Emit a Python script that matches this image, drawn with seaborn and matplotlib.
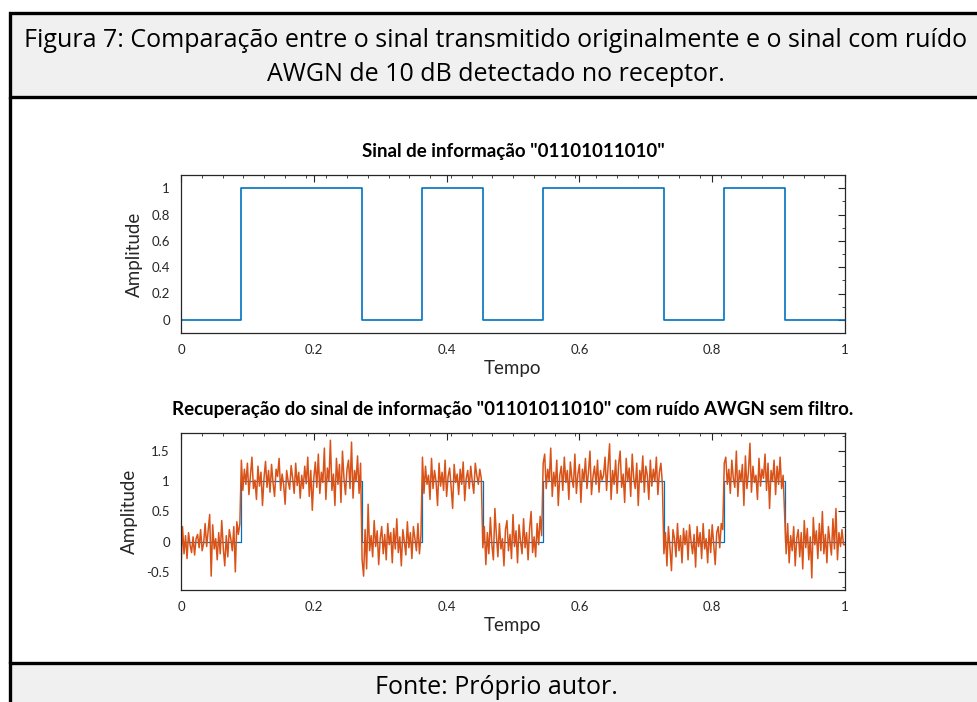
import numpy as np
import pandas as pd
import matplotlib
matplotlib.use("Agg")
import matplotlib.pyplot as plt
import seaborn as sns
from matplotlib.patches import Rectangle
from matplotlib.ticker import MultipleLocator

# ---------------- data ----------------
bits = [0, 1, 1, 0, 1, 0, 1, 1, 0, 1, 0]
bit_string = "01101011010"

# received (noisy) signal, in hundredths, one block per bit
rx_blocks = [
    [-45, 25, -20, 10, -28, 15, -5, -18, 8, -22, 5, 12, -10, 20, -15, -3, 30, -8, 18, 45,
     -57, 28, -12, 5, -30, 15, -20, 35, -10, -40, 10, -25, 20, 5, -15, 25, -50, 33, 12, 30],
    [135, 85, 120, 95, 130, 78, 110, 140, 88, 102, 70, 125, 92, 115, 60, 105, 133, 90, 118, 82,
     128, 97, 75, 120, 108, 138, 85, 112, 95, 62, 118, 100, 87, 126, 105, 80, 130, 93, 115, 72],
    [110, 88, 125, 96, 140, 75, 118, 52, 105, 132, 90, 145, 80, 115, 98, 155, 70, 122, 100, 168,
     85, 112, 60, 138, 95, 128, 65, 150, 105, 78, 120, 135, 88, 165, 72, 118, 100, 142, 80, 130],
    [-30, -57, 20, -45, 62, -15, 10, -25, 35, -8, 18, -38, 5, 25, -20, 12, -30, 30, -5, 15,
     -35, 22, -12, 38, -18, 8, -40, 20, 0, -22, 33, -10, 15, -28, 25, 5, -15, 30, -20, 10],
    [140, 80, 125, 95, 110, 70, 138, 88, 118, 100, 60, 130, 92, 115, 85, 135, 75, 108, 122, 90,
     55, 128, 98, 112, 78, 120, 95, 132, 68, 105, 118, 88, 125, 100, 80, 130, 110, 95, 120, 105],
    [-10, 25, -38, 15, -20, 40, -5, -30, 55, 10, -25, 30, -12, 5, -40, 20, 35, -15, 12, -28,
     45, -8, 18, -35, 28, 0, -20, 38, -10, 15, -30, 22, 50, -18, 8, -25, 30, -5, 42, 10],
    [130, 145, 88, 120, 100, 155, 75, 115, 92, 135, 60, 110, 125, 85, 140, 98, 118, 70, 132, 105,
     90, 145, 80, 112, 128, 65, 120, 100, 138, 88, 115, 150, 78, 108, 125, 95, 135, 82, 118, 102],
    [110, 140, 85, 125, 162, 70, 118, 95, 135, 80, 128, 150, 90, 112, 65, 138, 100, 122, 75, 145,
     105, 88, 130, 60, 118, 98, 142, 82, 125, 110, 70, 135, 92, 120, 100, 140, 78, 115, 130, 95],
    [-20, 15, -40, 25, -10, -48, 20, 5, -25, 30, -15, 10, -35, 22, -5, 18, -30, 28, 0, -20,
     12, -42, 25, -8, 15, -28, 30, -12, 5, -35, 20, -18, 28, -5, -38, 15, 25, -10, 30, 20],
    [130, 140, 95, 120, 80, 135, 105, 90, 150, 75, 118, 100, 128, 60, 142, 88, 115, 163, 82, 125,
     98, 110, 70, 138, 92, 120, 105, 145, 85, 130, 55, 118, 100, 135, 78, 125, 95, 140, 88, 110],
    [45, -20, 30, -35, 10, -15, 25, -40, 5, 20, -25, 15, -45, 35, -10, 22, -30, 8, -60, 40,
     -5, 18, -28, 30, -15, 50, -20, 12, -35, 25, 0, -22, 38, -12, 55, -30, 15, -8, 20, -5],
]

x_ticks = [0, 0.2, 0.4, 0.6, 0.8, 1]
x_tick_labels = ["0", "0.2", "0.4", "0.6", "0.8", "1"]
y1_ticks = [0, 0.2, 0.4, 0.6, 0.8, 1]
y1_tick_labels = ["0", "0.2", "0.4", "0.6", "0.8", "1"]
y2_ticks = [-0.5, 0, 0.5, 1, 1.5]
y2_tick_labels = ["-0.5", "0", "0.5", "1", "1.5"]

header_text = ("Figura 7: Comparação entre o sinal transmitido originalmente e o sinal com ruído\n"
               "AWGN de 10 dB detectado no receptor.")
footer_text = "Fonte: Próprio autor."
title1 = 'Sinal de informação "%s"' % bit_string
title2 = 'Recuperação do sinal de informação "%s" com ruído AWGN sem filtro.' % bit_string

# ---------------- build frames ----------------
nb = len(bits)
clean = pd.DataFrame({"t": np.arange(nb + 1) / nb, "amp": bits + [bits[-1]]})
t_parts, a_parts = [], []
for k, blk in enumerate(rx_blocks):
    n = len(blk)
    t_parts.append(k / nb + np.arange(n) / (n * nb))
    a_parts.append(np.array(blk) / 100.0)
t_parts.append(np.array([1.0]))
a_parts.append(np.array([rx_blocks[-1][-1] / 100.0]))
noisy = pd.DataFrame({"t": np.concatenate(t_parts), "amp": np.concatenate(a_parts)})

# ---------------- style ----------------
sns.set_style("white")
plt.rcParams["font.family"] = ["Lato", "DejaVu Sans"]
axis_col = "#262626"
blue = "#0072BD"
orange = "#D95319"

W, H = 977, 702
fig = plt.figure(figsize=(W / 100, H / 100), dpi=100)
fig.patch.set_facecolor("white")

def fx(px):
    return px / W

def fy(py):
    return 1 - py / H

# frames
fig.add_artist(Rectangle((fx(10), fy(97)), 1.2, fy(13) - fy(97), transform=fig.transFigure,
                         facecolor="#f0f0f0", edgecolor="black", lw=2.4, zorder=0))
fig.add_artist(Rectangle((fx(10), fy(720)), 1.2, fy(663) - fy(720), transform=fig.transFigure,
                         facecolor="#f0f0f0", edgecolor="black", lw=2.4, zorder=0))
fig.add_artist(plt.Line2D([fx(10), fx(10)], [fy(97), fy(663)], transform=fig.transFigure,
                          color="black", lw=2.4, zorder=0))

fig.text(fx(496), fy(57.5), header_text, ha="center", va="center", fontsize=18,
         family=["Open Sans", "DejaVu Sans"], linespacing=1.45, color="black")
fig.text(fx(496), fy(687), footer_text, ha="center", va="center", fontsize=18,
         family=["Open Sans", "DejaVu Sans"], color="black")

ax1 = fig.add_axes([fx(181), fy(333), fx(845) - fx(181), fy(175) - fy(333)])
ax2 = fig.add_axes([fx(181), fy(590), fx(845) - fx(181), fy(433) - fy(590)])

sns.lineplot(data=clean, x="t", y="amp", ax=ax1, color=blue, lw=1.2,
             drawstyle="steps-post", estimator=None, sort=False)
sns.lineplot(data=clean, x="t", y="amp", ax=ax2, color=blue, lw=0.9,
             drawstyle="steps-post", estimator=None, sort=False)
sns.lineplot(data=noisy, x="t", y="amp", ax=ax2, color=orange, lw=1.1,
             estimator=None, sort=False)

def style_axis(ax, yticks, ylabels, ylim, title, title_y):
    ax.set_xlim(0, 1)
    ax.set_ylim(*ylim)
    ax.set_xticks(x_ticks)
    ax.set_xticklabels(x_tick_labels)
    ax.set_yticks(yticks)
    ax.set_yticklabels(ylabels)
    ax.xaxis.set_minor_locator(MultipleLocator(1 / 32))
    ax.tick_params(which="both", direction="in", top=True, right=True, colors=axis_col,
                   labelcolor=axis_col, labelsize=9.5)
    ax.tick_params(which="major", length=5, width=0.8)
    ax.tick_params(axis="x", which="major", pad=8)
    ax.tick_params(axis="y", which="major", pad=8)
    ax.tick_params(which="minor", length=2.5, width=0.6)
    for s in ax.spines.values():
        s.set_color(axis_col)
        s.set_linewidth(0.9)
        s.set_visible(True)
    ax.set_xlabel("Tempo", fontsize=13.5, color=axis_col, labelpad=3)
    ax.set_ylabel("Amplitude", fontsize=13.5, color=axis_col, labelpad=6)
    ax.set_title(title, fontsize=13.5, fontweight="bold", color="black", y=title_y)
    ax.set_facecolor("white")

style_axis(ax1, y1_ticks, y1_tick_labels, (-0.1, 1.1), title1, 1.06)
style_axis(ax2, y2_ticks, y2_tick_labels, (-0.8, 1.8), title2, 1.06)
ax1.yaxis.set_minor_locator(MultipleLocator(0.1))
ax2.yaxis.set_minor_locator(MultipleLocator(0.25))

fig.savefig("out.png", dpi=100)
